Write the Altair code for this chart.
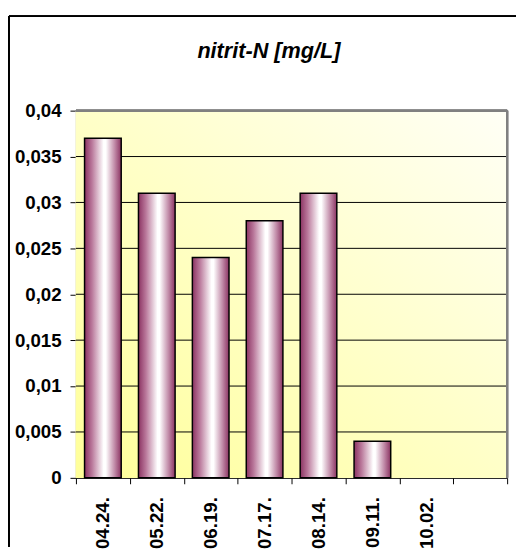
import altair as alt
import pandas as pd

# ---- data ----
dates = ["04.24.", "05.22.", "06.19.", "07.17.", "08.14.", "09.11.", "10.02."]
values = [0.037, 0.031, 0.024, 0.028, 0.031, 0.004, None]
slots = dates + [" "]          # the category axis has one empty slot at the end
y_ticks = [0, 0.005, 0.01, 0.015, 0.02, 0.025, 0.03, 0.035, 0.04]
grid_vals = [0.005, 0.01, 0.015, 0.02, 0.025, 0.03, 0.035]
title_text = "nitrit-N [mg/L]"

df = pd.DataFrame({"date": dates, "value": values})
grid_df = pd.DataFrame({"value": grid_vals})

FONT = "Liberation Sans"
W, H = 438, 373

yscale = alt.Scale(domain=[0, 0.04], nice=False, zero=True)
xscale = alt.Scale(domain=slots, paddingInner=0, paddingOuter=0)

y_axis = alt.Axis(values=y_ticks, grid=False, tickSize=6, labelPadding=9,
                  labelExpr="replace(format(datum.value, ''), '.', ',')",
                  labelFont=FONT, labelFontSize=19, labelFontWeight="bold",
                  labelColor="#000000", tickColor="#000000",
                  domainColor="#000000", domainWidth=1)

bg_grad = alt.LinearGradient(
    gradient="linear", x1=0, y1=1, x2=1, y2=0,
    stops=[alt.GradientStop(color="#FFFF99", offset=0),
           alt.GradientStop(color="#FFFFF6", offset=1)])

bar_grad = alt.LinearGradient(
    gradient="linear", x1=0, y1=0, x2=1, y2=0,
    stops=[alt.GradientStop(color="#8B3362", offset=0),
           alt.GradientStop(color="#B9779A", offset=0.2),
           alt.GradientStop(color="#FFFFFF", offset=0.52),
           alt.GradientStop(color="#FFFFFF", offset=0.58),
           alt.GradientStop(color="#C18BA8", offset=0.82),
           alt.GradientStop(color="#8B3362", offset=1)])

base = alt.Chart(df)

background = base.mark_rect(fill=bg_grad, strokeWidth=0).encode(
    x=alt.value(0), x2=alt.value("width"), y=alt.value(0), y2=alt.value("height"))

grid = alt.Chart(grid_df).mark_rule(color="#000000", strokeWidth=1).encode(
    y=alt.Y("value:Q", scale=yscale, title=None, axis=y_axis))

bars = base.mark_bar(fill=bar_grad, stroke="#000000", strokeWidth=1.5,
                     width={"band": 0.68}).encode(
    x=alt.X("date:N", scale=xscale, sort=slots, title=None,
            axis=alt.Axis(labelAngle=-90, tickBand="extent", labelPadding=13,
                          labelFont=FONT, labelFontSize=19, labelFontWeight="bold",
                          labelColor="#000000", tickColor="#000000", tickSize=6,
                          domainColor="#000000", domainWidth=1, grid=False,
                          labelOverlap=False)),
    y=alt.Y("value:Q", scale=yscale, title=None, axis=y_axis),
)

top_border = base.mark_rule(color="#808080", strokeWidth=2).encode(
    x=alt.value(0), x2=alt.value("width"), y=alt.value(0))
right_border = base.mark_rule(color="#808080", strokeWidth=2).encode(
    x=alt.value("width"), y=alt.value(0), y2=alt.value("height"))

frame_left = base.mark_rule(color="#000000", strokeWidth=1).encode(
    x=alt.value(-68), y=alt.value(-96), y2=alt.value(H + 70))
frame_top = base.mark_rule(color="#000000", strokeWidth=1).encode(
    x=alt.value(-68), x2=alt.value(W + 12), y=alt.value(-96))

chart = alt.layer(background, grid, bars, top_border, right_border,
                  frame_left, frame_top).properties(
    width=W, height=H,
    title=alt.TitleParams(title_text, font=FONT, fontSize=22, fontWeight="bold",
                          fontStyle="italic", color="#000000", anchor="middle",
                          frame="bounds", baseline="alphabetic", offset=-65, dx=5),
    autosize=alt.AutoSizeParams(type="none"),
    padding={"left": 69, "top": 100, "right": 9, "bottom": 68},
    background="#FFFFFF",
).configure_view(stroke=None)

chart.save("out.html", embed_options={"renderer": "svg", "actions": False})
